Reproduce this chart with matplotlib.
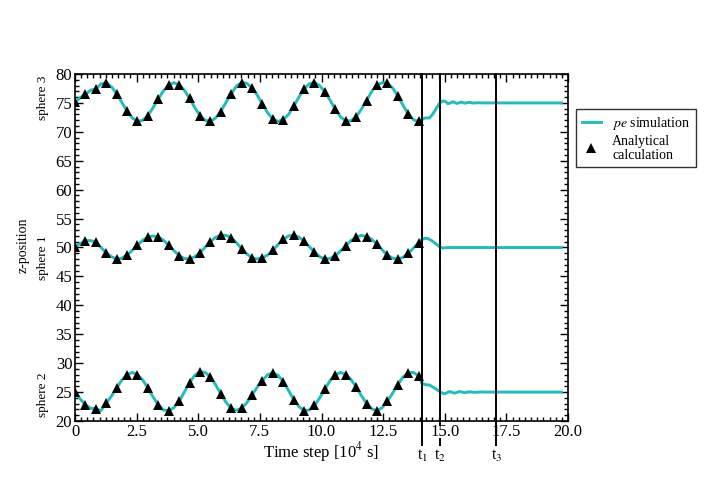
import numpy as np
import matplotlib

matplotlib.use("Agg")
import matplotlib.pyplot as plt
from matplotlib.ticker import MultipleLocator
from matplotlib.lines import Line2D
import matplotlib.transforms as mtransforms

plt.rcParams["font.family"] = "serif"
plt.rcParams["font.serif"] = ["Liberation Serif", "DejaVu Serif"]
plt.rcParams["mathtext.fontset"] = "stix"

# analytical points (sampled every ~0.42 x 10^4 s up to t1)
t_marks = np.linspace(0.0, 13.94, 34)
s3_marks = [75.1, 76.5, 77.4, 78.4, 76.6, 73.6, 71.8, 72.8, 75.7, 78.1, 78.1, 75.8,
            72.8, 71.8, 73.5, 76.6, 78.5, 77.6, 74.8, 72.2, 72.1, 74.4, 77.4, 78.5,
            76.9, 73.9, 71.9, 72.6, 75.4, 78.1, 78.4, 76.2, 73.1, 71.8]
s1_marks = [50.1, 51.2, 50.9, 49.1, 48.0, 48.7, 50.4, 51.8, 51.8, 50.4, 48.6, 48.0,
            49.1, 51.0, 52.1, 51.7, 49.8, 48.2, 48.2, 49.5, 51.4, 52.1, 51.1, 49.2,
            48.0, 48.6, 50.3, 51.8, 51.9, 50.6, 48.7, 48.0, 49.0, 50.8]
s2_marks = [25.1, 22.8, 22.1, 23.1, 25.7, 28.0, 28.0, 25.7, 22.8, 21.8, 23.4, 26.6,
            28.5, 27.6, 24.7, 22.2, 22.2, 24.5, 27.0, 28.3, 26.8, 23.7, 21.8, 22.7,
            25.5, 28.0, 28.0, 25.9, 23.0, 21.8, 23.4, 26.3, 28.3, 27.8]

# pe simulation curve, read at half the marker spacing before t1
t_sim = np.linspace(0.0, 13.94, 67)
s3_sim = [75.1, 75.9, 76.5, 77.2, 77.4, 78.3, 78.4, 77.8, 76.6, 75.1, 73.6, 72.4,
          71.8, 72.0, 72.8, 74.2, 75.7, 77.1, 78.1, 78.5, 78.1, 77.2, 75.8, 74.2,
          72.8, 72.0, 71.8, 72.4, 73.5, 75.1, 76.6, 77.9, 78.5, 78.4, 77.6, 76.35,
          74.8, 73.3, 72.2, 71.8, 72.1, 73.0, 74.4, 76.0, 77.4, 78.3, 78.5, 78.0,
          76.9, 75.45, 73.9, 72.6, 71.9, 71.9, 72.6, 73.9, 75.4, 77.0, 78.1, 78.5,
          78.4, 77.6, 76.2, 74.6, 73.1, 72.1, 71.8]
s1_sim = [50.1, 50.7, 51.2, 51.2, 50.9, 50.0, 49.1, 48.4, 48.0, 48.15, 48.7, 49.5,
          50.4, 51.25, 51.8, 52.0, 51.8, 51.25, 50.4, 49.45, 48.6, 48.1, 48.0, 48.4,
          49.1, 50.05, 51.0, 51.75, 52.1, 52.1, 51.7, 50.85, 49.8, 48.9, 48.2, 48.0,
          48.2, 48.7, 49.5, 50.5, 51.4, 52.0, 52.1, 51.8, 51.1, 50.15, 49.2, 48.4,
          48.0, 48.1, 48.6, 49.4, 50.3, 51.2, 51.8, 52.1, 51.9, 51.4, 50.6, 49.6,
          48.7, 48.15, 48.0, 48.3, 49.0, 49.9, 50.8]
s2_sim = [25.1, 23.8, 22.8, 22.2, 22.1, 21.8, 23.1, 24.3, 25.7, 27.1, 28.0, 28.4,
          28.0, 27.1, 25.7, 24.15, 22.8, 21.9, 21.8, 22.3, 23.4, 25.0, 26.6, 27.9,
          28.5, 28.4, 27.6, 26.3, 24.7, 23.25, 22.2, 21.85, 22.2, 23.15, 24.5, 25.85,
          27.0, 28.0, 28.3, 27.9, 26.8, 25.3, 23.7, 22.5, 21.8, 21.9, 22.7, 24.0,
          25.5, 27.0, 28.0, 28.4, 28.0, 27.2, 25.9, 24.4, 23.0, 22.1, 21.8, 22.3,
          23.4, 24.8, 26.3, 27.6, 28.3, 28.4, 27.8]

# simulation after t1 (spheres settle)
s3_tail_t = [14.05, 14.2, 14.38, 14.5, 14.65, 14.8, 14.92, 15.05, 15.13, 15.23, 15.33,
             15.5, 15.66, 15.82, 15.99, 16.15, 16.35, 16.6, 19.73]
s3_tail = [72.1, 72.4, 72.4, 73.0, 74.0, 75.0, 75.35, 75.2, 74.85, 75.0, 75.2,
           74.9, 75.15, 74.95, 75.1, 74.97, 75.03, 75.0, 75.0]
s1_tail_t = [14.08, 14.2, 14.35, 14.5, 14.65, 14.8, 14.9, 15.0, 15.2, 19.73]
s1_tail = [51.4, 51.6, 51.5, 51.1, 50.6, 50.1, 49.9, 49.95, 50.0, 50.0]
s2_tail_t = [14.08, 14.2, 14.39, 14.59, 14.75, 14.86, 14.99, 15.1, 15.2, 15.3, 15.4,
             15.5, 15.6, 15.8, 16.0, 16.2, 16.45, 16.7, 19.73]
s2_tail = [26.5, 26.3, 26.2, 25.7, 25.2, 24.9, 24.7, 24.9, 25.1, 24.95, 24.8,
           24.95, 25.1, 24.9, 25.05, 24.95, 25.02, 25.0, 25.0]

t_events = [14.08, 14.82, 17.09]
t_event_labels = ["t$_1$", "t$_2$", "t$_3$"]

x_ticks = [0, 2.5, 5.0, 7.5, 10.0, 12.5, 15.0, 17.5, 20.0]
x_ticklabels = ["0", "2.5", "5.0", "7.5", "10.0", "12.5", "15.0", "17.5", "20.0"]
y_ticks = [20, 25, 30, 35, 40, 45, 50, 55, 60, 65, 70, 75, 80]

sim_color = "#1ebebe"

fig = plt.figure(figsize=(7.19, 4.97), dpi=100)
ax = fig.add_axes([75 / 719, 1 - 421 / 497, 493 / 719, 347 / 497])

for ts, ys, tt, yt in [(t_sim, s3_sim, s3_tail_t, s3_tail),
                       (t_sim, s1_sim, s1_tail_t, s1_tail),
                       (t_sim, s2_sim, s2_tail_t, s2_tail)]:
    ax.plot(list(ts) + tt, list(ys) + yt, color=sim_color, lw=2.1, zorder=2,
            solid_joinstyle="round")

for ys in (s3_marks, s1_marks, s2_marks):
    ax.plot(t_marks, ys, ls="none", marker="^", ms=7.2, mew=0, color="black", zorder=3)

# event lines reach down past the axis to the t labels
for i, te in enumerate(t_events):
    if i == 1:
        ax.plot([te, te], [80, 19.3], color="black", lw=1.4, clip_on=False, zorder=4)
        ax.plot([te, te], [16.9, 15.85], color="black", lw=1.4, clip_on=False, zorder=4)
    else:
        ax.plot([te, te], [80, 15.85], color="black", lw=1.4, clip_on=False, zorder=4)

trans = mtransforms.blended_transform_factory(ax.transData, ax.transAxes)
for te, lab in zip(t_events, t_event_labels):
    ax.text(te, -0.1, lab, transform=trans, ha="center", va="center", fontsize=11.5)

ax.set_xlim(0, 20)
ax.set_ylim(20, 80)
ax.set_xticks(x_ticks)
ax.set_xticklabels(x_ticklabels)
ax.set_yticks(y_ticks)
ax.xaxis.set_minor_locator(MultipleLocator(0.25))
ax.yaxis.set_minor_locator(MultipleLocator(1))
ax.tick_params(which="both", direction="in", top=True, right=True, labelsize=12,
               width=1.0, pad=2)
ax.tick_params(which="major", length=5.5)
ax.tick_params(which="minor", length=2.8)
for sp in ax.spines.values():
    sp.set_linewidth(1.2)

ax.set_xlabel("Time step [10$^4$ s]", fontsize=12, labelpad=0)

ytrans = mtransforms.blended_transform_factory(ax.transAxes, ax.transData)
ax.text(-0.105, 50.4, "z-position", transform=ytrans, rotation=90,
        ha="center", va="center", fontsize=10)
for yv, lab in [(75.85, "sphere 3"), (48.2, "sphere 1"), (24.5, "sphere 2")]:
    ax.text(-0.065, yv, lab, transform=ytrans, rotation=90,
            ha="center", va="center", fontsize=9.5)

handles = [Line2D([], [], color=sim_color, lw=2.1),
           Line2D([], [], ls="none", marker="^", ms=6.5, mew=0, color="black")]
leg = ax.legend(handles, ["$pe$ simulation", "Analytical\ncalculation"],
                loc="upper left", bbox_to_anchor=(576 / 719, 1 - 109 / 497),
                bbox_transform=fig.transFigure, borderaxespad=0, fontsize=10,
                frameon=True, fancybox=False, handlelength=1.4, handletextpad=0.8,
                borderpad=0.4, labelspacing=0.25)
for txt in leg.get_texts():
    txt.set_multialignment("left")
    txt.set_linespacing(1.05)
leg.get_frame().set_edgecolor("black")
leg.get_frame().set_linewidth(1.0)

fig.savefig("out.png", dpi=100)
